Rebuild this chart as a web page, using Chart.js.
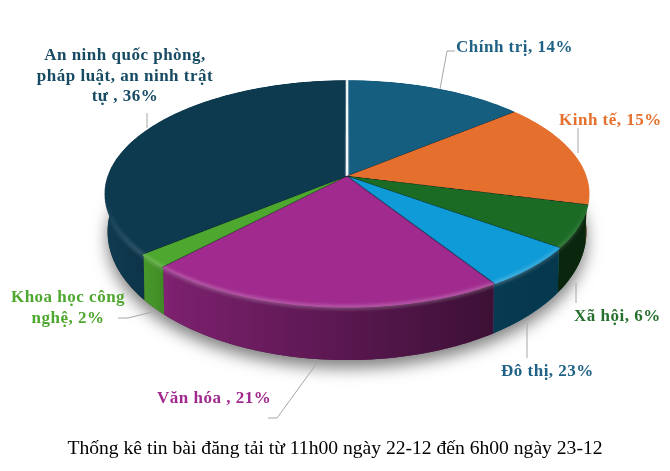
<!DOCTYPE html>
<html lang="vi">
<head>
<meta charset="UTF-8">
<title>Thống kê tin bài</title>
<script src="https://cdn.jsdelivr.net/npm/chart.js@4/dist/chart.umd.min.js"></script>
<style>
  html, body { margin: 0; padding: 0; background: #fff; }
  canvas { display: block; }
</style>
</head>
<body>
<canvas id="chart" width="670" height="471"></canvas>
<script>
// slice sizes; the printed label for "Đô thị" says 23% but its slice is about 6%
const categories = ['Chính trị', 'Kinh tế', 'Xã hội', 'Đô thị', 'Văn hóa', 'Khoa học công nghệ', 'An ninh quốc phòng, pháp luật, an ninh trật tự'];
const sliceValues = [14, 15, 6, 6, 21, 2, 36];
const printedPercents = [14, 15, 6, 23, 21, 2, 36];
const sliceColors = ['#155E80', '#E5702E', '#1B6B24', '#0F9BD7', '#A02A8E', '#4EA72E', '#0E3A50'];
const labelColors = ['#1F6285', '#E5702E', '#26702D', '#1F6285', '#A02A8E', '#4EA72E', '#174A63'];
const chartTitle = 'Thống kê tin bài đăng tải từ 11h00 ngày 22-12 đến 6h00 ngày 23-12';

// label placement, same order as categories
const labelLayout = [
  { lines: ['Chính trị, ' + printedPercents[0] + '%'], x: 456, y: 52, align: 'left', leader: [[440, 89], [447, 51], [455, 51]] },
  { lines: ['Kinh tế, ' + printedPercents[1] + '%'], x: 559, y: 125, align: 'left', leader: [[578, 128], [578, 153]] },
  { lines: ['Xã hội, ' + printedPercents[2] + '%'], x: 574, y: 321, align: 'left', leader: [[576, 283], [576, 303]] },
  { lines: ['Đô thị, ' + printedPercents[3] + '%'], x: 501, y: 376, align: 'left', leader: [[527, 323], [527, 358]] },
  { lines: ['Văn hóa , ' + printedPercents[4] + '%'], x: 157, y: 403, align: 'left', leader: [[317, 363], [277, 418], [268, 418]] },
  { lines: ['Khoa học công', 'nghệ, ' + printedPercents[5] + '%'], x: 68, y: 302, align: 'center', leader: [[152, 312], [128, 318], [118, 318]] },
  { lines: ['An ninh quốc phòng,', 'pháp luật, an ninh trật', 'tự , ' + printedPercents[6] + '%'], x: 125, y: 60, align: 'center', leader: [[147, 113], [147, 128]] }
];

// perspective of the tilted disc
const pieX = 347, pieY = 176, spanX = 240, spanY = 111.2, tilt = 0.158;

function topPoint(a, r) {
  const u = Math.cos(a) * r, v = Math.sin(a) * r, w = 1 - tilt * v;
  return [pieX + spanX * u / w, pieY + spanY * v / w];
}
function bottomPoint(a) {
  const p = topPoint(a, 1);
  return [pieX + (p[0] - pieX) * 0.985, pieY + 35.5 + (p[1] - pieY) * 1.125];
}
function tracePoints(ctx, pts) {
  pts.forEach((p, i) => i ? ctx.lineTo(p[0], p[1]) : ctx.moveTo(p[0], p[1]));
}
function angleSteps(a0, a1) {
  const n = Math.max(2, Math.ceil((a1 - a0) / 0.02)), out = [];
  for (let i = 0; i <= n; i++) out.push(a0 + (a1 - a0) * i / n);
  return out;
}

const tiltedPie = {
  id: 'tiltedPie',
  afterDatasetsDraw(chart) {
    const ctx = chart.ctx, arcs = chart.getDatasetMeta(0).data, area = chart.chartArea;
    const cx = arcs[0].x, cy = arcs[0].y, R = arcs[0].outerRadius;

    // seams on the flat disc, before it gets tilted
    ctx.save();
    arcs.forEach((el, i) => {
      ctx.beginPath();
      ctx.moveTo(cx, cy);
      ctx.lineTo(cx + R * Math.cos(el.startAngle), cy + R * Math.sin(el.startAngle));
      ctx.strokeStyle = i === 0 ? '#F4F8FA' : 'rgba(8,28,38,0.75)';
      ctx.lineWidth = i === 0 ? 2.6 : 1;
      ctx.stroke();
    });
    ctx.restore();

    const flat = document.createElement('canvas');
    flat.width = chart.canvas.width;
    flat.height = chart.canvas.height;
    flat.getContext('2d').drawImage(chart.canvas, 0, 0);
    ctx.clearRect(cx - R - 2, cy - R - 2, 2 * R + 4, 2 * R + 3);

    // soft shadow under the pie
    const rim = angleSteps(0, Math.PI * 2);
    ctx.save();
    ctx.shadowColor = 'rgba(0,0,0,0.5)';
    ctx.shadowBlur = 16;
    ctx.shadowOffsetY = 8;
    ctx.fillStyle = '#333';
    ctx.beginPath();
    tracePoints(ctx, rim.map(bottomPoint));
    ctx.closePath();
    ctx.fill();
    ctx.restore();

    // side wall, back slices first
    const order = arcs.map((el, i) => i).sort((a, b) =>
      Math.sin((arcs[a].startAngle + arcs[a].endAngle) / 2) - Math.sin((arcs[b].startAngle + arcs[b].endAngle) / 2));
    const shade = ctx.createLinearGradient(105, 0, 590, 0);
    shade.addColorStop(0, 'rgba(0,0,0,0)');
    shade.addColorStop(0.1, 'rgba(0,0,0,0.12)');
    shade.addColorStop(0.14, 'rgba(0,0,0,0.23)');
    shade.addColorStop(0.79, 'rgba(0,0,0,0.62)');
    shade.addColorStop(1, 'rgba(0,0,0,0.65)');
    order.forEach(i => {
      const el = arcs[i], steps = angleSteps(el.startAngle, el.endAngle);
      ctx.beginPath();
      tracePoints(ctx, steps.map(a => topPoint(a, 0.99)).concat(steps.slice().reverse().map(bottomPoint)));
      ctx.closePath();
      ctx.fillStyle = sliceColors[i];
      ctx.fill();
      ctx.fillStyle = shade;
      ctx.fill();
    });

    // top face: the flat disc redrawn row by row with the perspective
    ctx.save();
    ctx.beginPath();
    tracePoints(ctx, rim.map(a => topPoint(a, 0.998)));
    ctx.closePath();
    ctx.clip();
    for (let y = 70; y < 320; y++) {
      const d0 = y - pieY, d1 = d0 + 1;
      const v0 = d0 / (spanY + tilt * d0), v1 = d1 / (spanY + tilt * d1);
      if (v1 < -1 || v0 > 1) continue;
      const half = spanX / (1 - tilt * (v0 + v1) / 2);
      ctx.drawImage(flat, cx - R, cy + v0 * R, 2 * R, (v1 - v0) * R, pieX - half, y, 2 * half, 1);
    }
    ctx.restore();

    // rounded edge along the front, soft so it reads as a bevel
    const glow = ctx.createLinearGradient(0, 195, 0, 280);
    glow.addColorStop(0, 'rgba(255,255,255,0)');
    glow.addColorStop(1, 'rgba(255,255,255,0.2)');
    ctx.save();
    ctx.filter = 'blur(1.6px)';
    ctx.strokeStyle = glow;
    ctx.lineWidth = 5;
    arcs.forEach(el => {
      if (Math.sin((el.startAngle + el.endAngle) / 2) < -0.5) return;
      ctx.beginPath();
      tracePoints(ctx, angleSteps(el.startAngle, el.endAngle).map(a => topPoint(a, 0.995)));
      ctx.stroke();
    });
    ctx.restore();

    // leader lines and labels
    ctx.save();
    ctx.font = 'bold 17px "Liberation Serif"';
    ctx.letterSpacing = '0.5px';
    ctx.textBaseline = 'alphabetic';
    labelLayout.forEach((lab, i) => {
      ctx.beginPath();
      tracePoints(ctx, lab.leader);
      ctx.strokeStyle = '#A6A6A6';
      ctx.lineWidth = 1;
      ctx.stroke();
      ctx.fillStyle = labelColors[i];
      ctx.textAlign = lab.align;
      lab.lines.forEach((t, j) => ctx.fillText(t, lab.x, lab.y + j * 20.5));
    });
    ctx.restore();
  }
};

new Chart(document.getElementById('chart'), {
  type: 'pie',
  data: {
    labels: categories,
    datasets: [{ data: sliceValues, backgroundColor: sliceColors, borderWidth: 0 }]
  },
  options: {
    responsive: false,
    animation: false,
    devicePixelRatio: 1,
    layout: { padding: 0 },
    plugins: {
      legend: { display: false },
      tooltip: { enabled: false },
      title: {
        display: true,
        text: chartTitle,
        position: 'bottom',
        color: '#000',
        font: { family: '"Liberation Serif"', size: 19.6, weight: 'normal' },
        padding: { top: 6, bottom: 10 }
      }
    }
  },
  plugins: [tiltedPie]
});
</script>
</body>
</html>
